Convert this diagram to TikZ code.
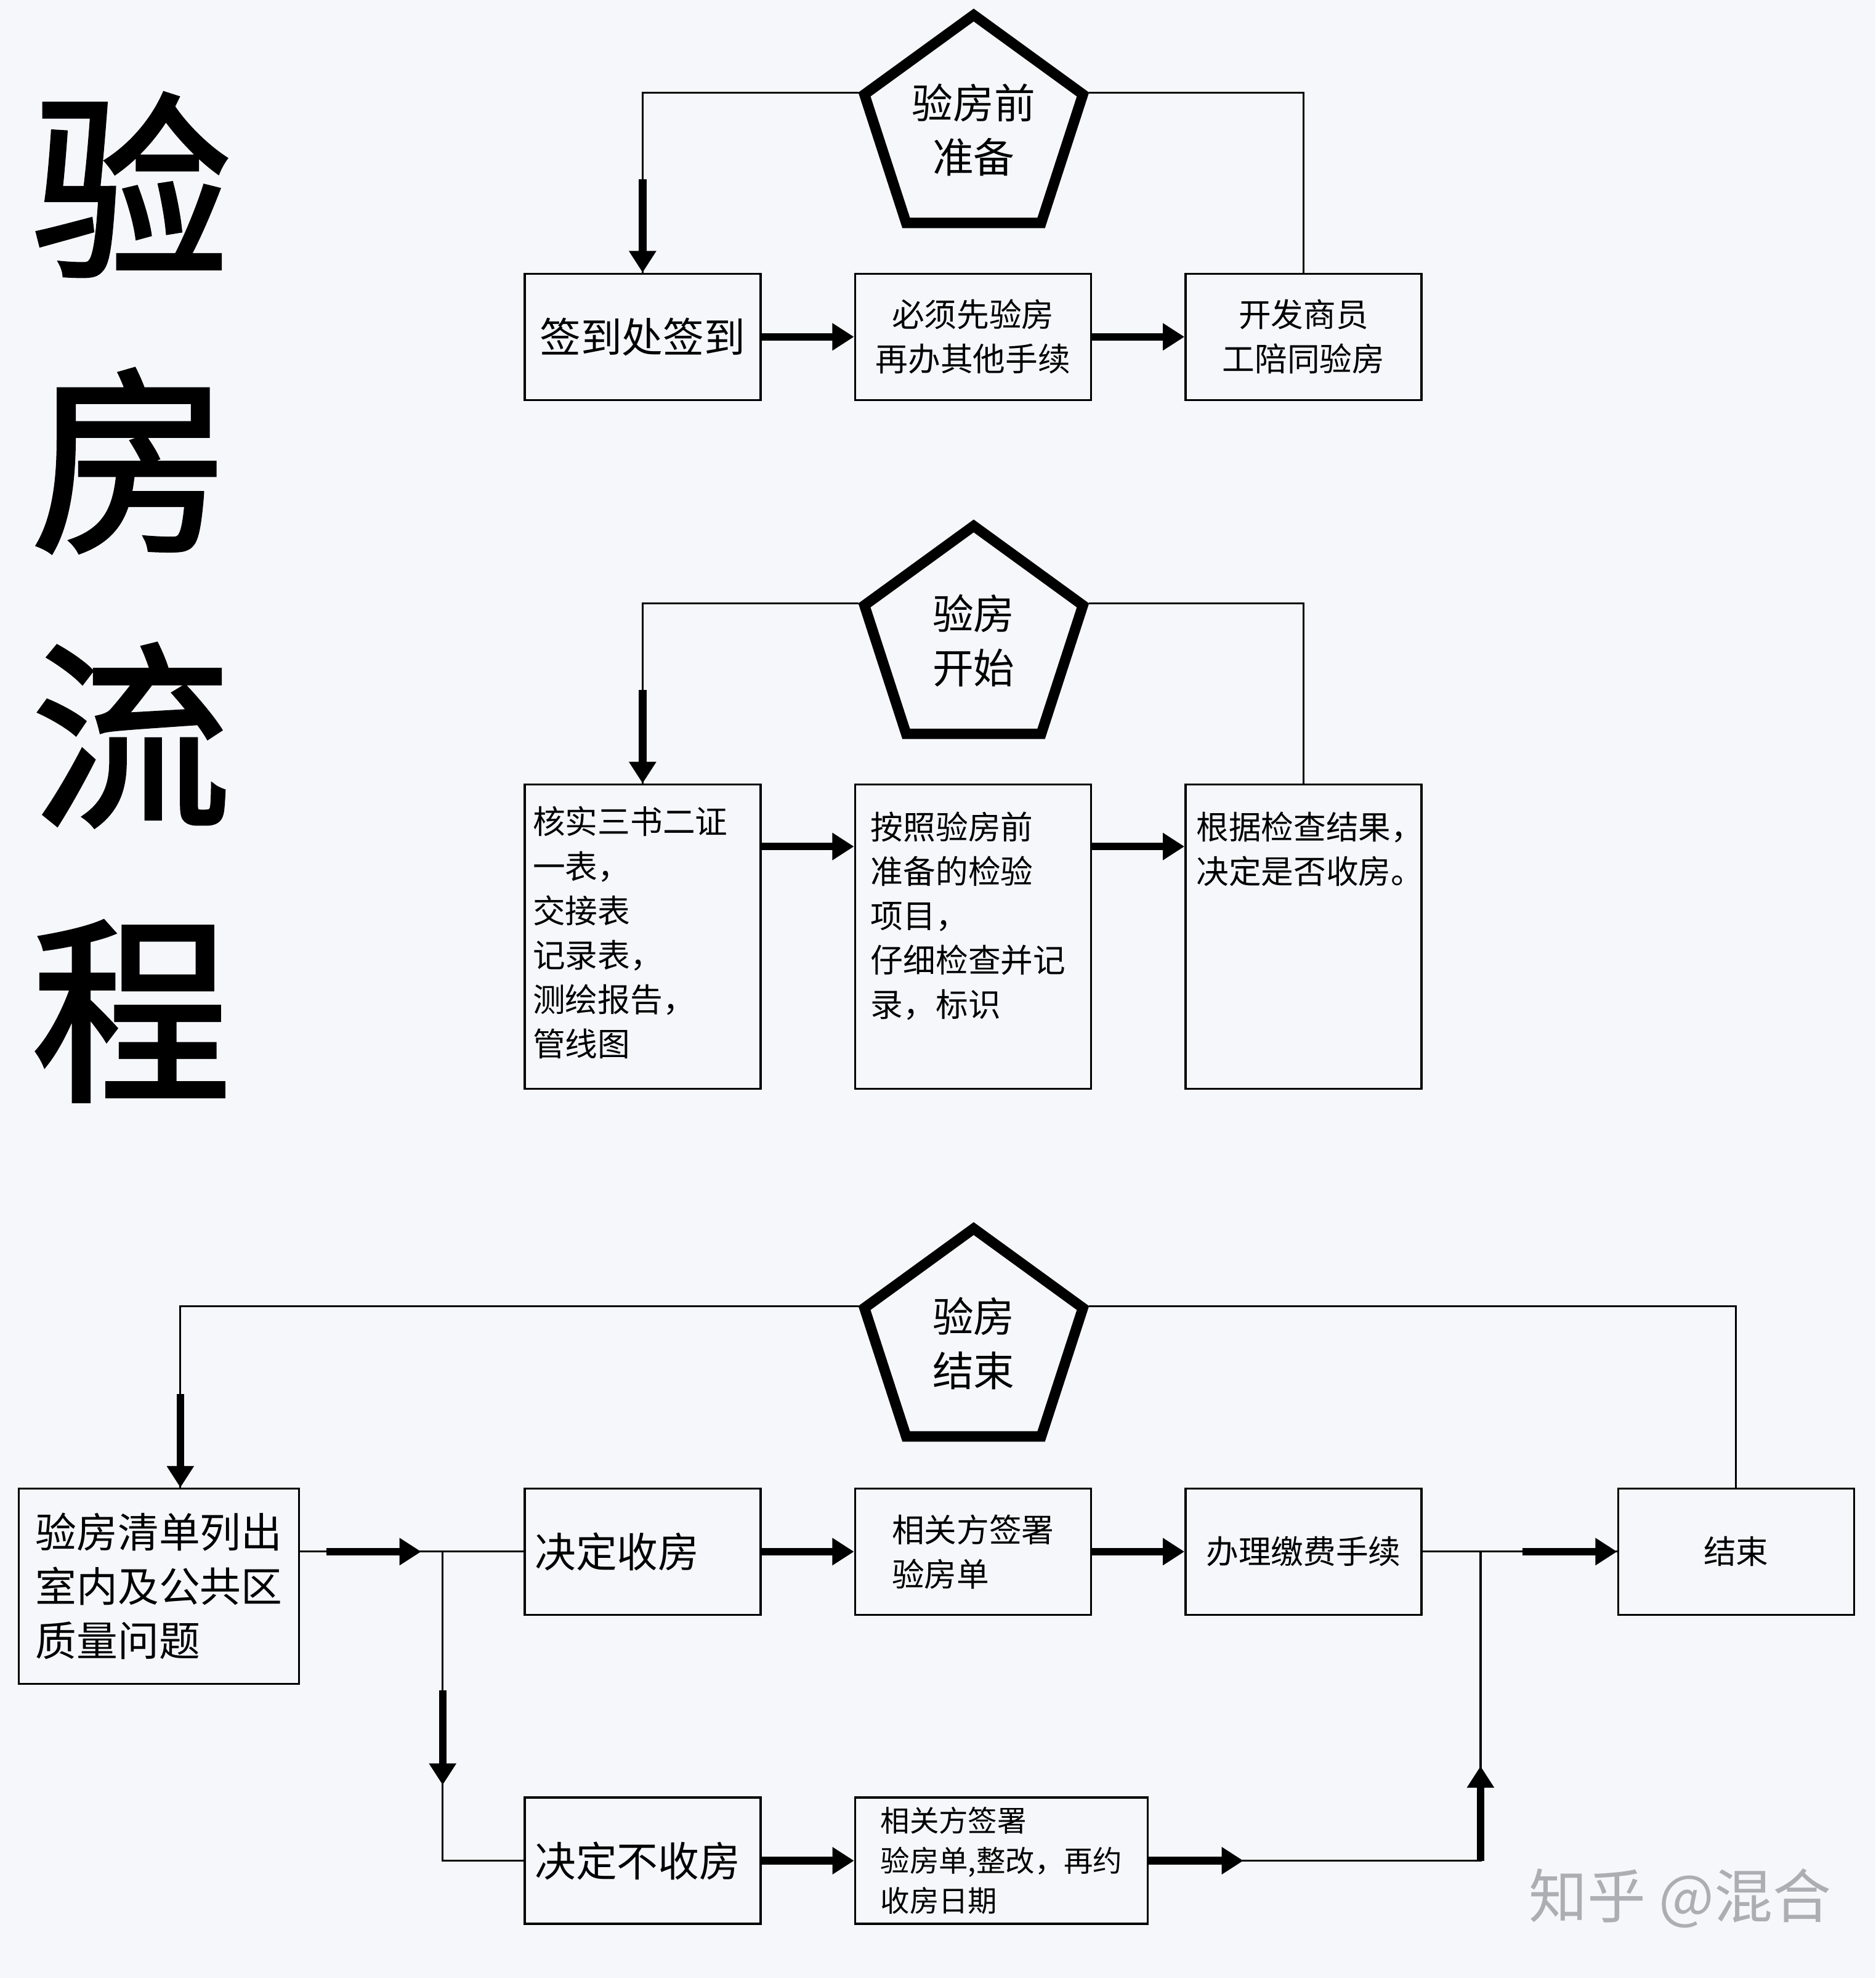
\documentclass[tikz,border=0pt]{standalone}
\usepackage{fontspec}
\setmainfont{Noto Sans CJK SC}
\newfontfamily\titlefont[FakeBold=2]{Noto Sans CJK SC}
\usetikzlibrary{shapes.geometric,arrows.meta,calc}
\definecolor{bgcol}{RGB}{245,247,250}
\definecolor{markcol}{RGB}{172,174,180}

\tikzset{
  flowbox/.style={draw, line width=1pt, inner sep=0pt, align=center},
  pent/.style={draw, regular polygon, regular polygon sides=5, minimum size=3.73cm,
    inner sep=0pt, line width=4.8pt, align=center, font=\fontsize{19}{25}\selectfont},
  thinline/.style={line width=0.9pt},
  fat/.style={line width=3.5pt, -{Triangle[length=10pt,width=12pt]}},
  small/.style={font=\fontsize{15}{20.5}\selectfont},
  big/.style={font=\fontsize{19}{25}\selectfont},
}

\begin{document}
\begin{tikzpicture}[x=0.02048cm, y=-0.02048cm]
  \fill[bgcol] (0,0) rectangle (1487,1568);

  % title
  \node[font=\titlefont\fontsize{92}{126.8}\selectfont, align=center, inner sep=0pt] (title) at (104,473.5) {验\\房\\流\\程};

  % ---- 验房前准备 ----
  \node[pent] (pre) at (772,103) {验房前\\准备};
  \node[flowbox, big, minimum width=3.83cm, minimum height=2.05cm] (sign) at (509.5,267) {签到处签到};
  \node[flowbox, small, minimum width=3.83cm, minimum height=2.05cm] (first) at (771.5,267) {必须先验房\\再办其他手续};
  \node[flowbox, small, minimum width=3.83cm, minimum height=2.05cm] (staff) at (1033.5,267) {开发商员\\工陪同验房};

  \draw[thinline] (pre.corner 2) -| (sign.north);
  \draw[thinline] (pre.corner 5) -| (staff.north);
  \draw[fat] ($(sign.north)+(0,-74)$) -- (sign.north);
  \draw[fat] (sign.east) -- (first.west);
  \draw[fat] (first.east) -- (staff.west);

  % ---- 验房开始 ----
  \node[pent] (start) at (772,508) {验房\\开始};
  \node[flowbox, minimum width=3.83cm, minimum height=4.94cm] (check) at (509.5,742.5) {};
  \node[flowbox, minimum width=3.83cm, minimum height=4.94cm] (inspect) at (771.5,742.5) {};
  \node[flowbox, minimum width=3.83cm, minimum height=4.94cm] (decide) at (1033.5,742.5) {};
  \node[small, anchor=north west, align=left, inner sep=0pt] (checktext) at ($(check.north west)+(7,18)$)
    {核实三书二证\\一表，\\交接表\\记录表，\\测绘报告，\\管线图};
  \node[small, anchor=north west, align=left, inner sep=0pt] (inspecttext) at ($(inspect.north west)+(13,22)$)
    {按照验房前\\准备的检验\\项目，\\仔细检查并记\\录，标识};
  \node[small, anchor=north west, align=left, inner sep=0pt] (decidetext) at ($(decide.north west)+(9,22)$)
    {根据检查结果，\\决定是否收房。};

  \draw[thinline] (start.corner 2) -| (check.north);
  \draw[thinline] (start.corner 5) -| (decide.north);
  \draw[fat] ($(check.north)+(0,-74)$) -- (check.north);
  \draw[fat] ($(check.north east)+(0,50)$) -- ($(inspect.north west)+(0,50)$);
  \draw[fat] ($(inspect.north east)+(0,50)$) -- ($(decide.north west)+(0,50)$);

  % ---- 验房结束 ----
  \node[pent] (stop) at (772,1065) {验房\\结束};
  \node[flowbox, big, align=left, minimum width=4.55cm, minimum height=3.17cm] (list) at (126,1257.5)
    {验房清单列出\\室内及公共区\\质量问题};
  \node[flowbox, big, align=left, text width=3.5cm, minimum width=3.83cm, minimum height=2.05cm] (accept) at (509.5,1230) {决定收房};
  \node[flowbox, small, align=left, minimum width=3.83cm, minimum height=2.05cm] (signa) at (771.5,1230) {相关方签署\\验房单};
  \node[flowbox, small, minimum width=3.83cm, minimum height=2.05cm] (pay) at (1033.5,1230) {办理缴费手续};
  \node[flowbox, small, minimum width=3.83cm, minimum height=2.05cm] (finish) at (1376.5,1230) {结束};
  \node[flowbox, big, align=left, text width=3.5cm, minimum width=3.83cm, minimum height=2.05cm] (reject) at (509.5,1475) {决定不收房};
  \node[flowbox, font=\fontsize{13.5}{18.4}\selectfont, align=left, minimum width=4.75cm, minimum height=2.05cm] (signb) at (794,1475)
    {相关方签署\\验房单,整改，再约\\收房日期};

  \coordinate (listin) at ($(list.north)+(17,0)$);
  \coordinate (listout) at (list.east |- accept.west);
  \coordinate (fork) at ($(listout)+(113,0)$);
  \coordinate (merge) at ($(pay.east)+(46,0)$);

  \draw[thinline] (stop.corner 2) -| (listin);
  \draw[thinline] (stop.corner 5) -| (finish.north);
  \draw[fat] ($(listin)+(0,-74)$) -- (listin);

  \draw[thinline] (listout) -- (accept.west);
  \draw[thinline] (fork) |- (reject.west);
  \draw[fat] ($(listout)+(21,0)$) -- ($(listout)+(96,0)$);
  \draw[fat] ($(fork)+(0,110)$) -- ($(fork)+(0,185)$);
  \draw[fat] (accept.east) -- (signa.west);
  \draw[fat] (reject.east) -- (signb.west);
  \draw[fat] (signa.east) -- (pay.west);
  \draw[thinline] (pay.east) -- (finish.west);
  \draw[fat] ($(finish.west)+(-75,0)$) -- (finish.west);
  \draw[thinline] (signb.east) -| (merge);
  \draw[fat] (signb.east) -- ++(75,0);
  \draw[fat] (merge |- signb.east) -- ++(0,-75);

  % watermark
  \node[font=\fontsize{27}{27}\selectfont, text=markcol] (mark) at (1332,1505) {知乎 @混合};
\end{tikzpicture}
\end{document}
